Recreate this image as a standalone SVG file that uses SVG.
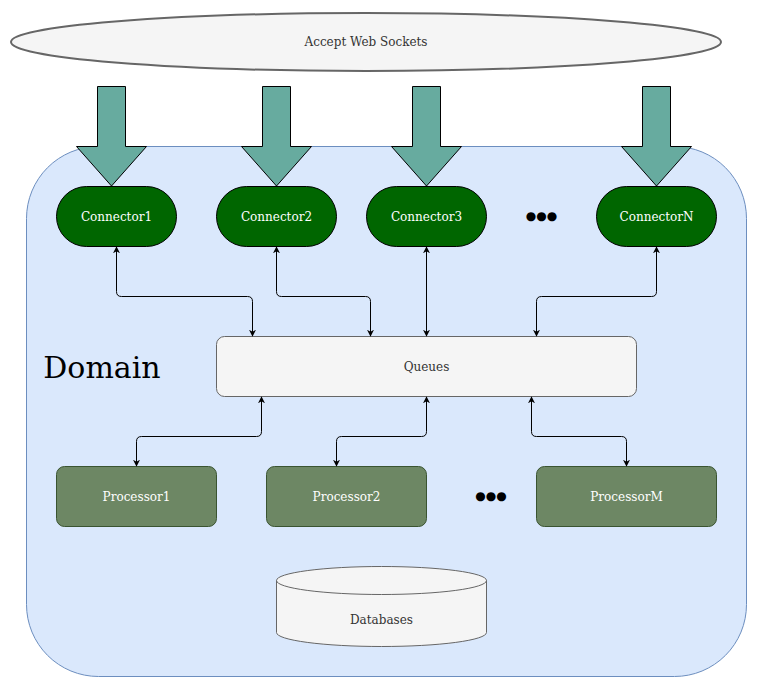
<svg xmlns="http://www.w3.org/2000/svg" width="757" height="687" viewBox="0 0 757 687">
<defs>
<style>
text{font-family:"DejaVu Serif","Liberation Serif",serif;font-size:12px;text-anchor:middle;dominant-baseline:central}
.dark{fill:#333333}
.light{fill:#ffffff}
.blk{fill:#67ab9f;stroke:#000000;stroke-width:1}
.conn{fill:#006600;stroke:#000000;stroke-width:1}
.proc{fill:#6d8764;stroke:#3a5431;stroke-width:1}
.edge{fill:none;stroke:#000000;stroke-width:1;marker-start:url(#ah);marker-end:url(#ah)}
.dots{font-size:12px;fill:#000000}
</style>
<marker id="ah" viewBox="0 0 10 10" refX="9" refY="5" markerWidth="7" markerHeight="7" orient="auto-start-reverse" markerUnits="userSpaceOnUse">
<path d="M0,0 L10,5 L0,10 L3,5 Z" fill="#000000"/>
</marker>
</defs>
<rect width="757" height="687" fill="#ffffff"/>
<g id="domain">
<rect x="26.5" y="146.5" width="720" height="530" rx="72" ry="72" fill="#dae8fc" stroke="#6c8ebf"/>
<text x="102" y="367" style="font-size:30px" fill="#000000">Domain</text>
</g>
<g id="websockets">
<ellipse cx="366" cy="42" rx="355" ry="29" fill="#f5f5f5" stroke="#666666" stroke-width="2"/>
<text class="dark" x="366" y="42">Accept Web Sockets</text>
</g>
<g id="arrows-in">
<path class="blk" d="M97.5,86.5 H125.5 V146.5 H146.5 L111.5,186 L76.5,146.5 H97.5 Z"/>
<path class="blk" d="M262.5,86.5 H290.5 V146.5 H311.5 L276.5,186 L241.5,146.5 H262.5 Z"/>
<path class="blk" d="M412.5,86.5 H440.5 V146.5 H461.5 L426.5,186 L391.5,146.5 H412.5 Z"/>
<path class="blk" d="M642.5,86.5 H670.5 V146.5 H691.5 L656.5,186 L621.5,146.5 H642.5 Z"/>
</g>
<g id="connector1"><rect class="conn" x="56.5" y="186.5" width="120" height="60" rx="30"/><text class="light" x="116.5" y="216.5">Connector1</text></g>
<g id="connector2"><rect class="conn" x="216.5" y="186.5" width="120" height="60" rx="30"/><text class="light" x="276.5" y="216.5">Connector2</text></g>
<g id="connector3"><rect class="conn" x="366.5" y="186.5" width="120" height="60" rx="30"/><text class="light" x="426.5" y="216.5">Connector3</text></g>
<g id="dots1"><text class="dots" x="541.5" y="215.5">●●●</text></g>
<g id="connectorN"><rect class="conn" x="596.5" y="186.5" width="120" height="60" rx="30"/><text class="light" x="656.5" y="216.5">ConnectorN</text></g>
<g id="queues"><rect x="216.5" y="336.5" width="420" height="60" rx="8" fill="#f5f5f5" stroke="#666666"/><text class="dark" x="426.5" y="366.5">Queues</text></g>
<g id="processor1"><rect class="proc" x="56.5" y="466.5" width="160" height="60" rx="8"/><text class="light" x="136.5" y="496.5">Processor1</text></g>
<g id="processor2"><rect class="proc" x="266.5" y="466.5" width="160" height="60" rx="8"/><text class="light" x="346.5" y="496.5">Processor2</text></g>
<g id="dots2"><text class="dots" x="491" y="495.5">●●●</text></g>
<g id="processorM"><rect class="proc" x="536.5" y="466.5" width="180" height="60" rx="8"/><text class="light" x="626.5" y="496.5">ProcessorM</text></g>
<g id="databases">
<path d="M276.5,580.5 A105,14 0 0 1 486.5,580.5 V632.5 A105,14 0 0 1 276.5,632.5 Z" fill="#f5f5f5" stroke="#666666"/>
<path d="M276.5,580.5 A105,14 0 0 0 486.5,580.5" fill="none" stroke="#666666"/>
<text class="dark" x="381.5" y="619.5">Databases</text>
</g>
<g id="connectors">
<path class="edge" d="M116.5,247 V291.5 Q116.5,296.5 121.5,296.5 H247.5 Q252.5,296.5 252.5,301.5 V336"/>
<path class="edge" d="M276.5,247 V291.5 Q276.5,296.5 281.5,296.5 H365.5 Q370.5,296.5 370.5,301.5 V336"/>
<path class="edge" d="M426.5,247 V336"/>
<path class="edge" d="M656.5,247 V291.5 Q656.5,296.5 651.5,296.5 H541.5 Q536.5,296.5 536.5,301.5 V336"/>
<path class="edge" d="M261.5,397 V431.5 Q261.5,436.5 256.5,436.5 H141.5 Q136.5,436.5 136.5,441.5 V466"/>
<path class="edge" d="M426.5,397 V431.5 Q426.5,436.5 421.5,436.5 H341.5 Q336.5,436.5 336.5,441.5 V466"/>
<path class="edge" d="M531.5,397 V431.5 Q531.5,436.5 536.5,436.5 H621.5 Q626.5,436.5 626.5,441.5 V466"/>
</g>
</svg>
